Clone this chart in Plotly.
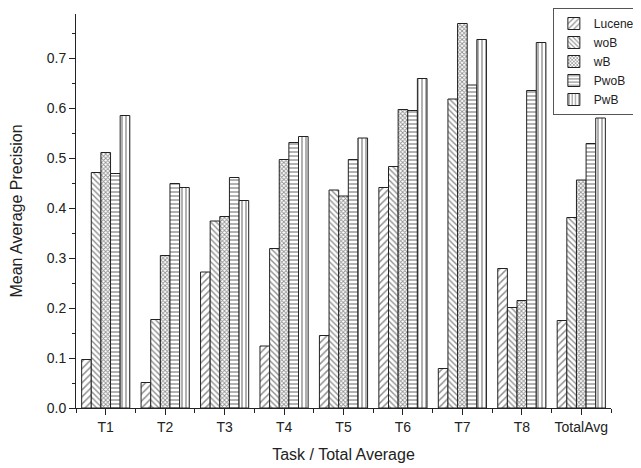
import plotly.graph_objects as go

categories = ["T1", "T2", "T3", "T4", "T5", "T6", "T7", "T8", "TotalAvg"]
lucene = [0.097, 0.051, 0.272, 0.124, 0.145, 0.441, 0.079, 0.279, 0.175]
wob = [0.471, 0.177, 0.374, 0.319, 0.436, 0.483, 0.618, 0.201, 0.381]
wb = [0.511, 0.305, 0.383, 0.497, 0.424, 0.597, 0.769, 0.215, 0.456]
pwob = [0.469, 0.449, 0.461, 0.531, 0.497, 0.595, 0.646, 0.635, 0.529]
pwb = [0.585, 0.441, 0.415, 0.543, 0.540, 0.659, 0.737, 0.731, 0.580]

series = [
    ("Lucene", lucene, "/", 5, 0.3),
    ("woB", wob, "\\", 4, 0.35),
    ("wB", wb, "x", 3, 0.5),
    ("PwoB", pwob, "-", 4, 0.35),
    ("PwB", pwb, "|", 4, 0.35),
]

xpos = list(range(len(categories)))

fig = go.Figure()
for name, vals, shape, size, sol in series:
    fig.add_trace(go.Bar(
        x=xpos, y=vals, name=name,
        marker=dict(
            color="white",
            line=dict(color="#222222", width=1),
            pattern=dict(shape=shape, fgcolor="#222222", bgcolor="white",
                         size=size, solidity=sol),
        ),
    ))

fig.update_layout(
    width=633, height=460,
    margin=dict(l=68, r=0, t=0, b=60, autoexpand=False),
    paper_bgcolor="white", plot_bgcolor="white",
    barmode="group", bargap=0.19, bargroupgap=0,
    font=dict(family="Liberation Sans, Arial, sans-serif", size=14, color="#222222"),
    showlegend=True,
    legend=dict(
        x=0.998, xanchor="right", y=1.0, yanchor="top",
        bordercolor="#555555", borderwidth=1, bgcolor="white",
        font=dict(size=12), tracegroupgap=0,
        itemwidth=30,
    ),
    xaxis=dict(
        domain=[0, 0.9469], automargin=False,
        title=dict(text="Task / Total Average", font=dict(size=16), standoff=15),
        range=[-0.5, 8.5],
        tickmode="array", tickvals=xpos, ticktext=categories,
        showline=True, linecolor="#222222", linewidth=1,
        ticks="outside", ticklen=6, tickcolor="#222222",
        showgrid=False, zeroline=False,
        minor=dict(tickmode="linear", tick0=0.5, dtick=1, ticks="outside",
                   ticklen=4, tickcolor="#222222", showgrid=False),
    ),
    yaxis=dict(
        domain=[0, 0.985], automargin=False,
        title=dict(text="Mean Average Precision", font=dict(size=16), standoff=20),
        range=[0, 0.788],
        tickmode="linear", tick0=0, dtick=0.1, tickformat=".1f",
        showline=True, linecolor="#222222", linewidth=1,
        ticks="outside", ticklen=6, tickcolor="#222222",
        showgrid=False, zeroline=False,
        minor=dict(dtick=0.05, ticks="outside", ticklen=3, tickcolor="#222222", showgrid=False),
    ),
)

fig.write_html("out.html")
